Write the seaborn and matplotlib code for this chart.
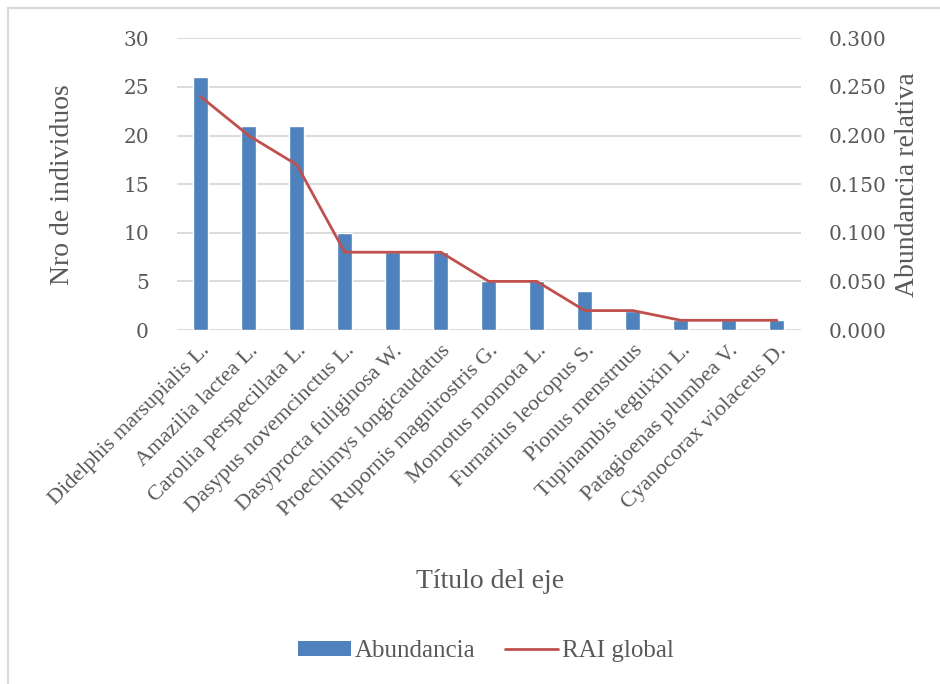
import matplotlib
matplotlib.use("Agg")
import matplotlib.pyplot as plt
import seaborn as sns
import pandas as pd
from matplotlib.patches import Patch, Rectangle
from matplotlib.lines import Line2D

species = [
    "Didelphis marsupialis L.", "Amazilia lactea L.", "Carollia perspecillata L.",
    "Dasypus novemcinctus L.", "Dasyprocta fuliginosa W.", "Proechimys longicaudatus",
    "Rupornis magnirostris G.", "Momotus momota L.", "Furnarius leocopus S.",
    "Pionus menstruus", "Tupinambis teguixin L.", "Patagioenas plumbea V.",
    "Cyanocorax violaceus D.",
]
abundancia = [26, 21, 21, 10, 8, 8, 5, 5, 4, 2, 1, 1, 1]
rai_global = [0.24, 0.20, 0.17, 0.08, 0.08, 0.08, 0.05, 0.05, 0.02, 0.02, 0.01, 0.01, 0.01]
left_ticks = [0, 5, 10, 15, 20, 25, 30]
right_ticks = [0.0, 0.05, 0.10, 0.15, 0.20, 0.25, 0.30]

df = pd.DataFrame({"especie": species, "abundancia": abundancia, "rai": rai_global})

sns.set_theme(style="white")
plt.rcParams["font.family"] = ["Liberation Serif", "DejaVu Serif"]
num_font = ["DejaVu Serif"]
txt = "#595959"
bar_c = "#4f81bd"
line_c = "#c0504d"
grid_c = "#d9d9d9"

fig = plt.figure(figsize=(9.4, 6.84), dpi=100)
ax = fig.add_axes([0.188, 0.5175, 0.664, 0.4265])

sns.barplot(data=df, x="especie", y="abundancia", color=bar_c, width=0.31,
            saturation=1, ax=ax, zorder=3)
ax.set_ylim(0, 30)
ax.set_yticks(left_ticks)
ax.set_yticklabels([str(v) for v in left_ticks], family=num_font, fontsize=14.5)
ax.set_xlim(-0.5, len(species) - 0.5)
ax.yaxis.grid(True, color=grid_c, linewidth=1.3, zorder=0)
ax.set_axisbelow(True)
for s in ax.spines.values():
    s.set_visible(False)
ax.tick_params(axis="both", length=0, colors=txt)
ax.tick_params(axis="y", pad=20)
ax.tick_params(axis="x", pad=8, labelsize=16)
plt.setp(ax.get_xticklabels(), rotation=45, ha="right", rotation_mode="anchor")
ax.set_ylabel("Nro de individuos", fontsize=20, color=txt)
ax.yaxis.set_label_coords(-0.163, 0.5)
ax.set_xlabel("Título del eje", fontsize=20, color=txt)
ax.xaxis.set_label_coords(0.5016, -0.82)

ax2 = ax.twinx()
sns.lineplot(x=list(range(len(species))), y=df["rai"].tolist(), color=line_c,
             linewidth=2, sort=False, ax=ax2)
ax2.set_ylim(0, 0.30)
ax2.set_yticks(right_ticks)
ax2.set_yticklabels([f"{v:.3f}" for v in right_ticks], family=num_font, fontsize=14.5)
ax2.set_xlim(-0.5, len(species) - 0.5)
for s in ax2.spines.values():
    s.set_visible(False)
ax2.tick_params(axis="y", length=0, colors=txt, pad=20)
ax2.set_ylabel("Abundancia relativa", fontsize=20, color=txt)
ax2.yaxis.set_label_coords(1.15, 0.5)

handles = [Patch(facecolor=bar_c, edgecolor="none"),
           Line2D([0], [0], color=line_c, linewidth=2)]
fig.legend(handles, ["Abundancia", "RAI global"], loc="center",
           bbox_to_anchor=(0.517, 0.048), ncol=2, frameon=False, fontsize=18,
           labelcolor=txt, handlelength=2.1, handleheight=0.55, handletextpad=0.15,
           columnspacing=1.2)

fig.patches.append(Rectangle((0.008, -0.01), 1.1, 0.998, transform=fig.transFigure,
                             fill=False, edgecolor=grid_c, linewidth=1.5))

fig.savefig("out.png", dpi=100)
